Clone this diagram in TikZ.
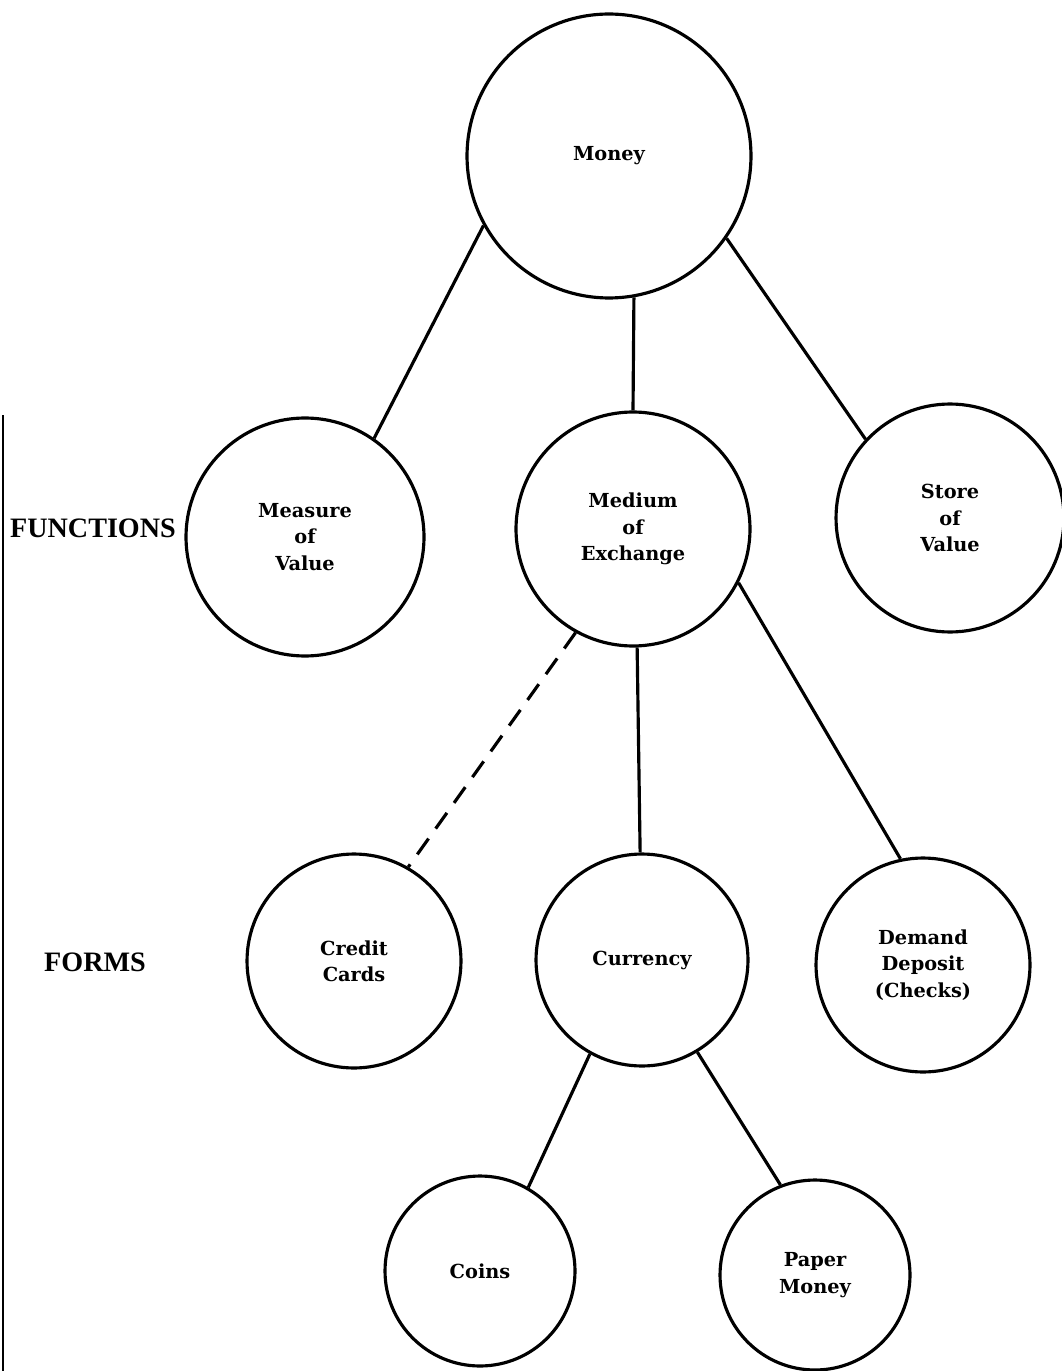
\documentclass[tikz,border=0pt]{standalone}
\usepackage{fontspec}
\usepackage{tikz}
\newfontfamily\bubblefont{DejaVu Serif}
\newfontfamily\headfont{Liberation Serif}

\begin{document}
\begin{tikzpicture}[x=0.02cm,y=-0.02cm,
	bubble/.style={draw,circle,line width=1.8pt,inner sep=0pt,align=center,
		font=\bubblefont\bfseries\fontsize{11}{15}\selectfont},
	link/.style={line width=1.8pt},
	heading/.style={font=\headfont\bfseries\fontsize{16}{19}\selectfont}]
	\useasboundingbox (0,0) rectangle (1061,1371);
	
	% money
	\node[bubble,minimum size=5.68cm] (money) at (609,156) {Money};
	
	% functions
	\node[bubble,minimum size=4.76cm] (measure) at (305,537) {Measure\\of\\Value};
	\node[bubble,minimum size=4.68cm] (medium) at (633,529) {Medium\\of\\Exchange};
	\node[bubble,minimum size=4.56cm] (store) at (950,518) {Store\\of\\Value};
	
	% forms
	\node[bubble,minimum size=4.28cm] (credit) at (354,961) {Credit\\Cards};
	\node[bubble,minimum size=4.24cm] (currency) at (642,960) {Currency};
	\node[bubble,minimum size=4.28cm] (demand) at (923,965) {Demand\\Deposit\\(Checks)};
	
	\node[bubble,minimum size=3.8cm] (coins) at (480,1271) {Coins};
	\node[bubble,minimum size=3.8cm] (paper) at (815,1275) {Paper\\Money};
	
	\node[heading] (functions) at (93,528) {FUNCTIONS};
	\node[heading] (forms) at (95,962) {FORMS};
	
	%links
	\draw[link] (money.209) -- (measure.55);
	\draw[link] (money.280) -- (medium.90);
	\draw[link] (money.325) -- (store.137);
	
	\draw[link,dash pattern=on 11pt off 7pt] (medium.241) -- (credit.60);
	\draw[link] (medium.272) -- (currency.91);
	\draw[link] (medium.333) -- (demand.102);
	
	\draw[link] (currency.241) -- (coins.60);
	\draw[link] (currency.301) -- (paper.111);
	
	% left rule
	\draw[line width=1.2pt] (3,415) -- (3,1371);
\end{tikzpicture}
\end{document}
